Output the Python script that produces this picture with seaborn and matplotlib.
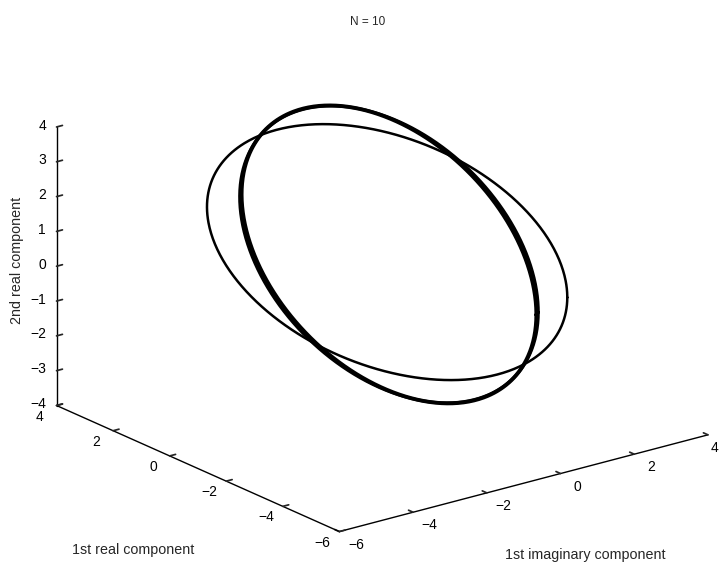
import numpy as np
import pandas as pd
import matplotlib
matplotlib.use("Agg")
import matplotlib.pyplot as plt
from mpl_toolkits.mplot3d import proj3d
import seaborn as sns

sns.set_theme(style="white")
plt.rcParams["font.family"] = ["Liberation Sans", "DejaVu Sans"]

# Closed orbits, each an ellipse given by its centre and two half-axis vectors
# (x = 1st imaginary component, y = 1st real component, z = 2nd real component)
orbit_ids = ["orbit 1", "orbit 2", "orbit 3"]
orbit_centre = [(-0.10, 0.0, 0.215), (-0.05, 0.0, 0.135), (-0.05, 0.0, 0.135)]
orbit_half_u = [(3.89, -1.30, -1.913), (3.50, -0.65, -2.47), (3.55, -0.65, -2.41)]
orbit_half_v = [(-2.00, -2.60, -1.94), (-2.50, -3.25, -2.04), (-2.50, -3.25, -2.06)]

x_ticks = [-6, -4, -2, 0, 2, 4]
y_ticks = [-6, -4, -2, 0, 2, 4]
z_ticks = [-4, -3, -2, -1, 0, 1, 2, 3, 4]

title = "N = 10"
x_label = "1st imaginary component"
y_label = "1st real component"
z_label = "2nd real component"

line_widths = {"orbit 1": 1.8, "orbit 2": 2.8, "orbit 3": 2.3}

# sample each orbit over one period
phase = np.linspace(0.0, 2.0 * np.pi, 600)
frames = []
for oid, c, u, v in zip(orbit_ids, orbit_centre, orbit_half_u, orbit_half_v):
    c, u, v = map(np.asarray, (c, u, v))
    pts = c[None, :] + np.outer(np.cos(phase), u) + np.outer(np.sin(phase), v)
    frames.append(pd.DataFrame({"orbit": oid, "x": pts[:, 0], "y": pts[:, 1], "z": pts[:, 2]}))
orbits = pd.concat(frames, ignore_index=True)

fig = plt.figure(figsize=(7.2, 5.67), dpi=100)
ax = fig.add_axes([0.021, 0.027, 1.0, 0.93], projection="3d", proj_type="ortho")
ax.view_init(elev=20, azim=-127.5)
ax.set_box_aspect((10, 10, 6.38), zoom=1.327)

ink = sns.color_palette(["#000000"])[0]
for oid, grp in orbits.groupby("orbit", sort=False):
    ax.plot(grp["x"], grp["y"], grp["z"], color=ink, lw=line_widths[oid], solid_capstyle="round")

ax.set_xlim(x_ticks[0], x_ticks[-1])
ax.set_ylim(y_ticks[0], y_ticks[-1])
ax.set_zlim(z_ticks[0], z_ticks[-1])
ax.set_xticks(x_ticks)
ax.set_yticks(y_ticks)
ax.set_zticks(z_ticks)
ax.set_xticklabels([])
ax.set_yticklabels([])
ax.set_zticklabels([])
ax.grid(False)

for axis in (ax.xaxis, ax.yaxis, ax.zaxis):
    axis.pane.set_visible(False)
    axis.line.set_color("black")
    axis.line.set_linewidth(1.0)
    axis._axinfo["tick"]["color"] = "black"
    axis._axinfo["tick"]["inward_factor"] = 0.0
    axis._axinfo["tick"]["outward_factor"] = 0.2

# tick labels placed next to the projected tick positions on each axis line
fig.canvas.draw()
proj = ax.get_proj()


def tick_text(x, y, z, text, dx, dy, ha):
    px, py, _ = proj3d.proj_transform(x, y, z, proj)
    ax.annotate(text, xy=(px, py), xycoords="data", xytext=(dx, dy),
                textcoords="offset points", ha=ha, va="center",
                fontsize=10, color="black", annotation_clip=False)


def fmt(v):
    return f"{v}".replace("-", "\u2212")


for t in x_ticks:
    # the last label sits against the right edge of the figure
    if t == x_ticks[-1]:
        tick_text(t, y_ticks[0], z_ticks[0], fmt(t), 7.2, -9.5, "right")
    else:
        tick_text(t, y_ticks[0], z_ticks[0], fmt(t), 12.0, -9.5, "center")
for t in y_ticks:
    tick_text(x_ticks[0], t, z_ticks[0], fmt(t), -12.0, -8.0, "center")
for t in z_ticks:
    tick_text(x_ticks[0], y_ticks[-1], t, fmt(t), -7.5, 1.0, "right")

fig.text(0.511, 0.961, title, ha="center", va="center", fontsize=8.5)
fig.text(0.024, 0.541, z_label, rotation=90, ha="center", va="center", fontsize=10.3)
fig.text(0.185, 0.030, y_label, ha="center", va="center", fontsize=10.3)
fig.text(0.8125, 0.021, x_label, ha="center", va="center", fontsize=10.3)

fig.savefig("out.png", dpi=100)
